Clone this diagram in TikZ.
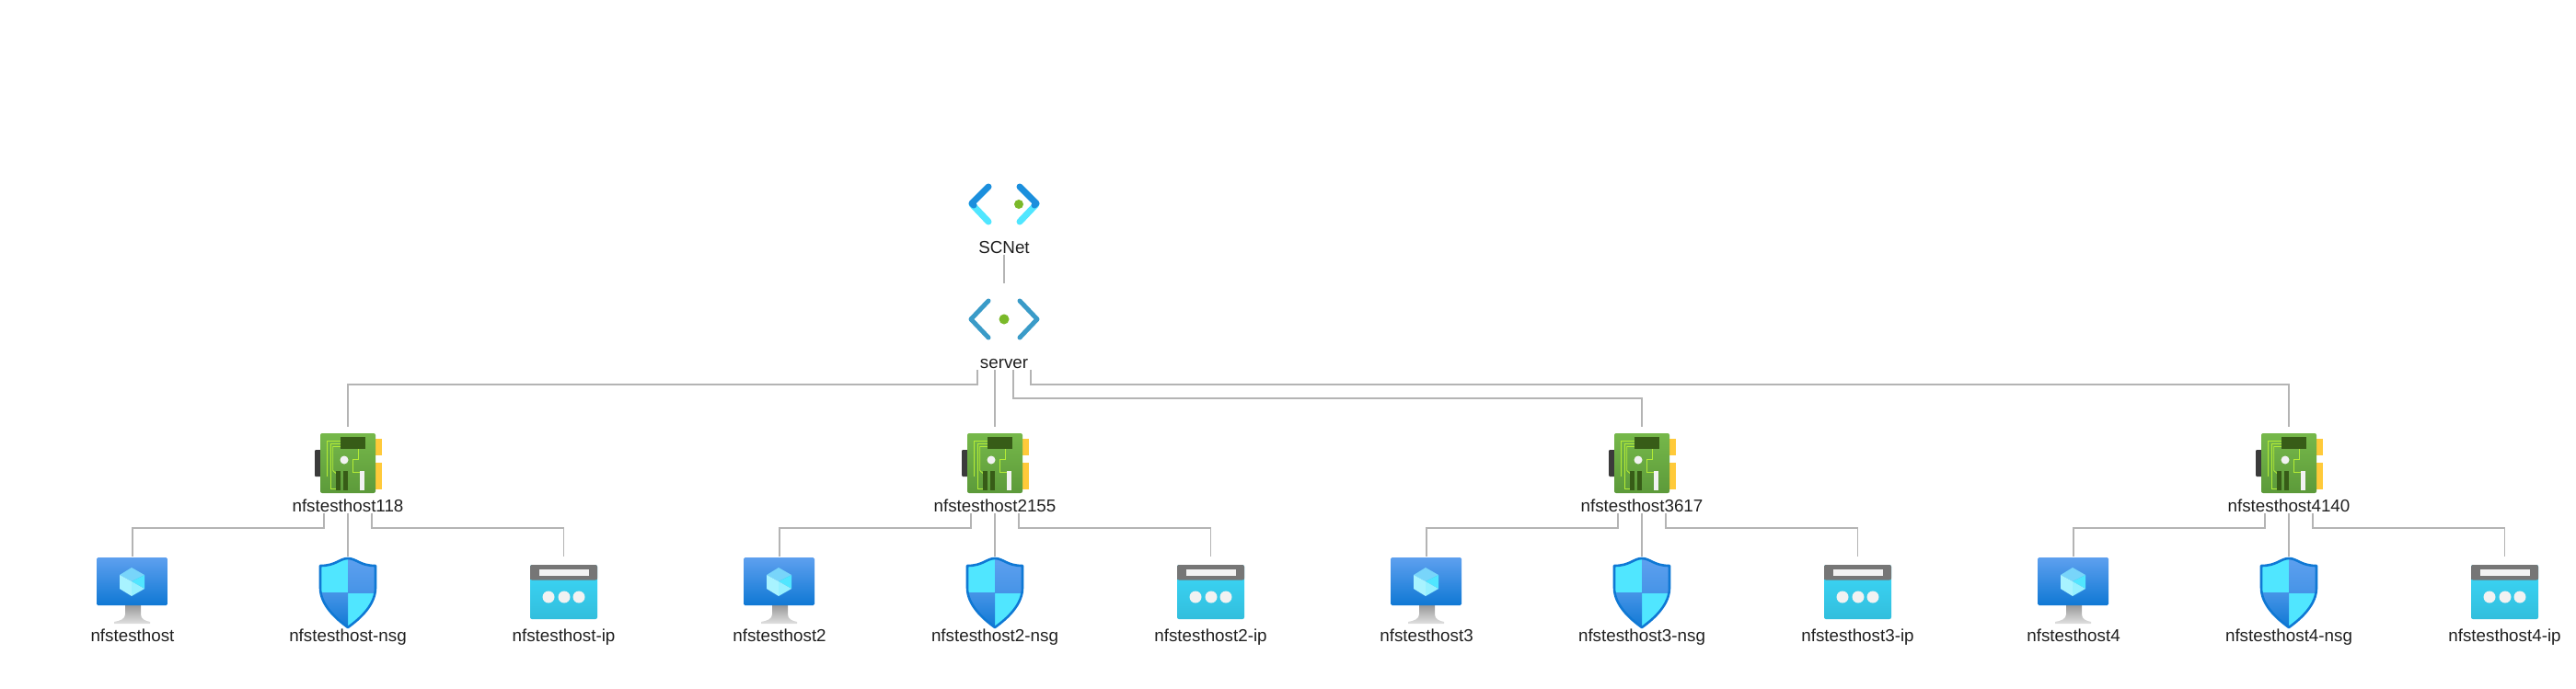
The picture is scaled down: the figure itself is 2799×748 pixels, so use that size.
\documentclass[tikz,border=0pt]{standalone}
\usepackage{fontspec}
\setmainfont{Liberation Sans}
\definecolor{linkgrey}{HTML}{B4B4B4}
\definecolor{labelblack}{HTML}{1F1F1F}
\definecolor{netblue}{HTML}{1B8FDD}
\definecolor{netlight}{HTML}{50E6FF}
\definecolor{subnetblue}{HTML}{3A9BC8}
\definecolor{dotgreen}{HTML}{7AB929}
\definecolor{nicgreen}{HTML}{76B84A}
\definecolor{nicdark}{HTML}{5C9A3A}
\definecolor{chipgreen}{HTML}{375C17}
\definecolor{tracegreen}{HTML}{B4EC36}
\definecolor{tabyellow}{HTML}{FFCA3A}
\definecolor{tabgrey}{HTML}{3B3B3B}
\definecolor{vmtop}{HTML}{5EA0EF}
\definecolor{vmbottom}{HTML}{0F78D4}
\definecolor{ipband}{HTML}{767676}
\definecolor{iptop}{HTML}{3CD8F8}
\definecolor{ipbottom}{HTML}{32BEDD}
\tikzset{
  link/.style={draw=linkgrey,line width=1.8pt},
  lbl/.style={anchor=base,inner sep=0pt,outer sep=0pt,text height=14pt,text depth=2pt,text=labelblack,font=\fontsize{18.8pt}{20pt}\selectfont},
  vneticon/.pic={
    \draw[netlight,line width=7pt,line cap=round] (-35,0)--(-17,19);
    \draw[netlight,line width=7pt,line cap=round] (35,0)--(17,19);
    \draw[netblue,line width=7pt,line cap=round,line join=round] (-17,-19)--(-35,-1)--(-33,1);
    \draw[netblue,line width=7pt,line cap=round,line join=round] (17,-19)--(35,-1)--(33,1);
    \fill[dotgreen] (16,0) circle (5pt);
    \coordinate (-top) at (0,-39);
  },
  subneticon/.pic={
    \draw[subnetblue,line width=5pt,line cap=round,line join=round] (-17,-20)--(-36,0)--(-17,20);
    \draw[subnetblue,line width=5pt,line cap=round,line join=round] (17,-20)--(36,0)--(17,20);
    \fill[dotgreen] (0,0) circle (5.5pt);
    \coordinate (-top) at (0,-39);
  },
  nicicon/.pic={
    \fill[tabgrey,rounded corners=1pt] (-36,-14.5) rectangle (-29,14.5);
    \fill[tabyellow] (29,-26.5) rectangle (37,-8.5);
    \fill[tabyellow] (29,-0.5) rectangle (37,28.5);
    \shade[top color=nicgreen,bottom color=nicdark,rounded corners=2pt] (-30,-32.5) rectangle (30,32.5);
    \draw[tracegreen,line width=0.9pt] (-22.3,14.5)--(-22.3,-24.5)--(-8,-24.5);
    \draw[tracegreen,line width=0.9pt] (-13,28)--(-19,28)--(-19,-21.5)--(-8,-21.5);
    \draw[tracegreen,line width=0.9pt] (-13,11)--(-16.3,8)--(-16.3,-18)--(-8,-18);
    \draw[tracegreen,line width=0.9pt] (11.3,-15.5)--(11.3,-4)--(5.3,-4)--(5.3,9.5)--(13.7,9.5);
    \fill[chipgreen] (-8,-29) rectangle (19,-15.5);
    \fill[chipgreen] (-13,8.5) rectangle (-8,29.5);
    \fill[chipgreen] (-5,8.5) rectangle (0,29.5);
    \fill[white!95!black] (13,8.5) rectangle (17.5,29.5);
    \fill[white!95!black] (-4,-3.5) circle (4.5pt);
    \coordinate (-top) at (0,-39.5);
  },
  vmicon/.pic={
    \shade[top color=black!40,bottom color=black!12] (-8,16)--(9,16)--(9,26)..controls (9,31) and (14,33) .. (19,34)--(19,36)--(-20,36)--(-20,34)..controls (-14,33) and (-8,31) .. (-8,26)--cycle;
    \shade[top color=vmtop,bottom color=vmbottom,rounded corners=1.5pt] (-39,-36) rectangle (38,16);
    \fill[netlight!60!vmtop!80!white] (-1,-25)--(13,-17)--(-1,-10)--(-14,-17)--cycle;
    \fill[netlight!50!white] (-14,-17)--(-1,-10)--(-1,6)--(-14,-2)--cycle;
    \fill[netlight] (13,-17)--(-1,-10)--(13,-2)--cycle;
    \fill[netlight!60!white] (-1,-10)--(13,-2)--(-1,6)--cycle;
    \coordinate (-top) at (0,-37);
  },
  nsgicon/.pic={
    \begin{scope}
      \clip (0,-38)..controls (-9,-38) and (-13,-30) .. (-30,-30)--(-30,-6)..controls (-30,12) and (-14,27) .. (0,37)..controls (14,27) and (30,12) .. (30,-6)--(30,-30)..controls (13,-30) and (9,-38) .. (0,-38)--cycle;
      \fill[netlight] (-31,-39) rectangle (0,-1);
      \fill[netlight] (0,-1) rectangle (31,38);
      \shade[top color=vmtop,bottom color=vmtop!70!vmbottom] (0,-39) rectangle (31,-1);
      \shade[top color=vmtop!70!vmbottom,bottom color=vmbottom] (-31,-1) rectangle (0,38);
    \end{scope}
    \draw[vmbottom,line width=2.6pt,line join=round] (0,-38)..controls (-9,-38) and (-13,-30) .. (-30,-30)--(-30,-6)..controls (-30,12) and (-14,27) .. (0,37)..controls (14,27) and (30,12) .. (30,-6)--(30,-30)..controls (13,-30) and (9,-38) .. (0,-38)--cycle;
    \coordinate (-top) at (0,-40);
  },
  ipicon/.pic={
    \shade[top color=iptop,bottom color=ipbottom,rounded corners=2pt] (-36.5,-29.5) rectangle (36.5,29.5);
    \fill[ipband,rounded corners=2pt] (-36.5,-29.5) rectangle (36.5,-13);
    \fill[ipband] (-36.5,-20) rectangle (36.5,-13.5);
    \fill[white!95!black] (-26.5,-24.5) rectangle (27,-17.5);
    \fill[white!95!black] (-16.5,5.5) circle (6.5pt);
    \fill[white!95!black] (0.5,5.5) circle (6.5pt);
    \fill[white!95!black] (16.5,5.5) circle (6.5pt);
    \coordinate (-top) at (0,-38.5);
  },
}
\begin{document}
\begin{tikzpicture}[x=1pt,y=-1pt]
\useasboundingbox (0,0) rectangle (2799,748);
% network
\pic (scnet) at (1091,222) {vneticon};
\node[lbl] (lblscnet) at (1091,275) {SCNet};
\pic (server) at (1091,347) {subneticon};
\node[lbl] (lblserver) at (1091,400) {server};
% interfaces
\pic (nic118) at (378,503.5) {nicicon};
\node[lbl] (lblnic118) at (378,556) {nfstesthost118};
\pic (nic2155) at (1081,503.5) {nicicon};
\node[lbl] (lblnic2155) at (1081,556) {nfstesthost2155};
\pic (nic3617) at (1784,503.5) {nicicon};
\node[lbl] (lblnic3617) at (1784,556) {nfstesthost3617};
\pic (nic4140) at (2487,503.5) {nicicon};
\node[lbl] (lblnic4140) at (2487,556) {nfstesthost4140};
% first host
\pic (vm1) at (144,642) {vmicon};
\node[lbl] (lblvm1) at (144,697) {nfstesthost};
\pic (nsg1) at (378,645) {nsgicon};
\node[lbl] (lblnsg1) at (378,697) {nfstesthost-nsg};
\pic (ip1) at (612.5,643.5) {ipicon};
\node[lbl] (lblip1) at (612.5,697) {nfstesthost-ip};
% second host
\pic (vm2) at (847,642) {vmicon};
\node[lbl] (lblvm2) at (847,697) {nfstesthost2};
\pic (nsg2) at (1081,645) {nsgicon};
\node[lbl] (lblnsg2) at (1081,697) {nfstesthost2-nsg};
\pic (ip2) at (1315.5,643.5) {ipicon};
\node[lbl] (lblip2) at (1315.5,697) {nfstesthost2-ip};
% third host
\pic (vm3) at (1550,642) {vmicon};
\node[lbl] (lblvm3) at (1550,697) {nfstesthost3};
\pic (nsg3) at (1784,645) {nsgicon};
\node[lbl] (lblnsg3) at (1784,697) {nfstesthost3-nsg};
\pic (ip3) at (2018.5,643.5) {ipicon};
\node[lbl] (lblip3) at (2018.5,697) {nfstesthost3-ip};
% fourth host
\pic (vm4) at (2253,642) {vmicon};
\node[lbl] (lblvm4) at (2253,697) {nfstesthost4};
\pic (nsg4) at (2487,645) {nsgicon};
\node[lbl] (lblnsg4) at (2487,697) {nfstesthost4-nsg};
\pic (ip4) at (2721.5,643.5) {ipicon};
\node[lbl] (lblip4) at (2721.5,697) {nfstesthost4-ip};
% connectors
\draw[link] (lblscnet.south)--(server-top);
\draw[link] ([xshift=-29pt]lblserver.south)--++(0,16)-|(nic118-top);
\draw[link] ([xshift=-10pt]lblserver.south)--(nic2155-top);
\draw[link] ([xshift=10pt]lblserver.south)--++(0,31)-|(nic3617-top);
\draw[link] ([xshift=29pt]lblserver.south)--++(0,16)-|(nic4140-top);
\draw[link] ([xshift=-26pt]lblnic118.south)--++(0,16)-|(vm1-top);
\draw[link] (lblnic118.south)--(nsg1-top);
\draw[link] ([xshift=26pt]lblnic118.south)--++(0,16)-|(ip1-top);
\draw[link] ([xshift=-26pt]lblnic2155.south)--++(0,16)-|(vm2-top);
\draw[link] (lblnic2155.south)--(nsg2-top);
\draw[link] ([xshift=26pt]lblnic2155.south)--++(0,16)-|(ip2-top);
\draw[link] ([xshift=-26pt]lblnic3617.south)--++(0,16)-|(vm3-top);
\draw[link] (lblnic3617.south)--(nsg3-top);
\draw[link] ([xshift=26pt]lblnic3617.south)--++(0,16)-|(ip3-top);
\draw[link] ([xshift=-26pt]lblnic4140.south)--++(0,16)-|(vm4-top);
\draw[link] (lblnic4140.south)--(nsg4-top);
\draw[link] ([xshift=26pt]lblnic4140.south)--++(0,16)-|(ip4-top);
\end{tikzpicture}
\end{document}
